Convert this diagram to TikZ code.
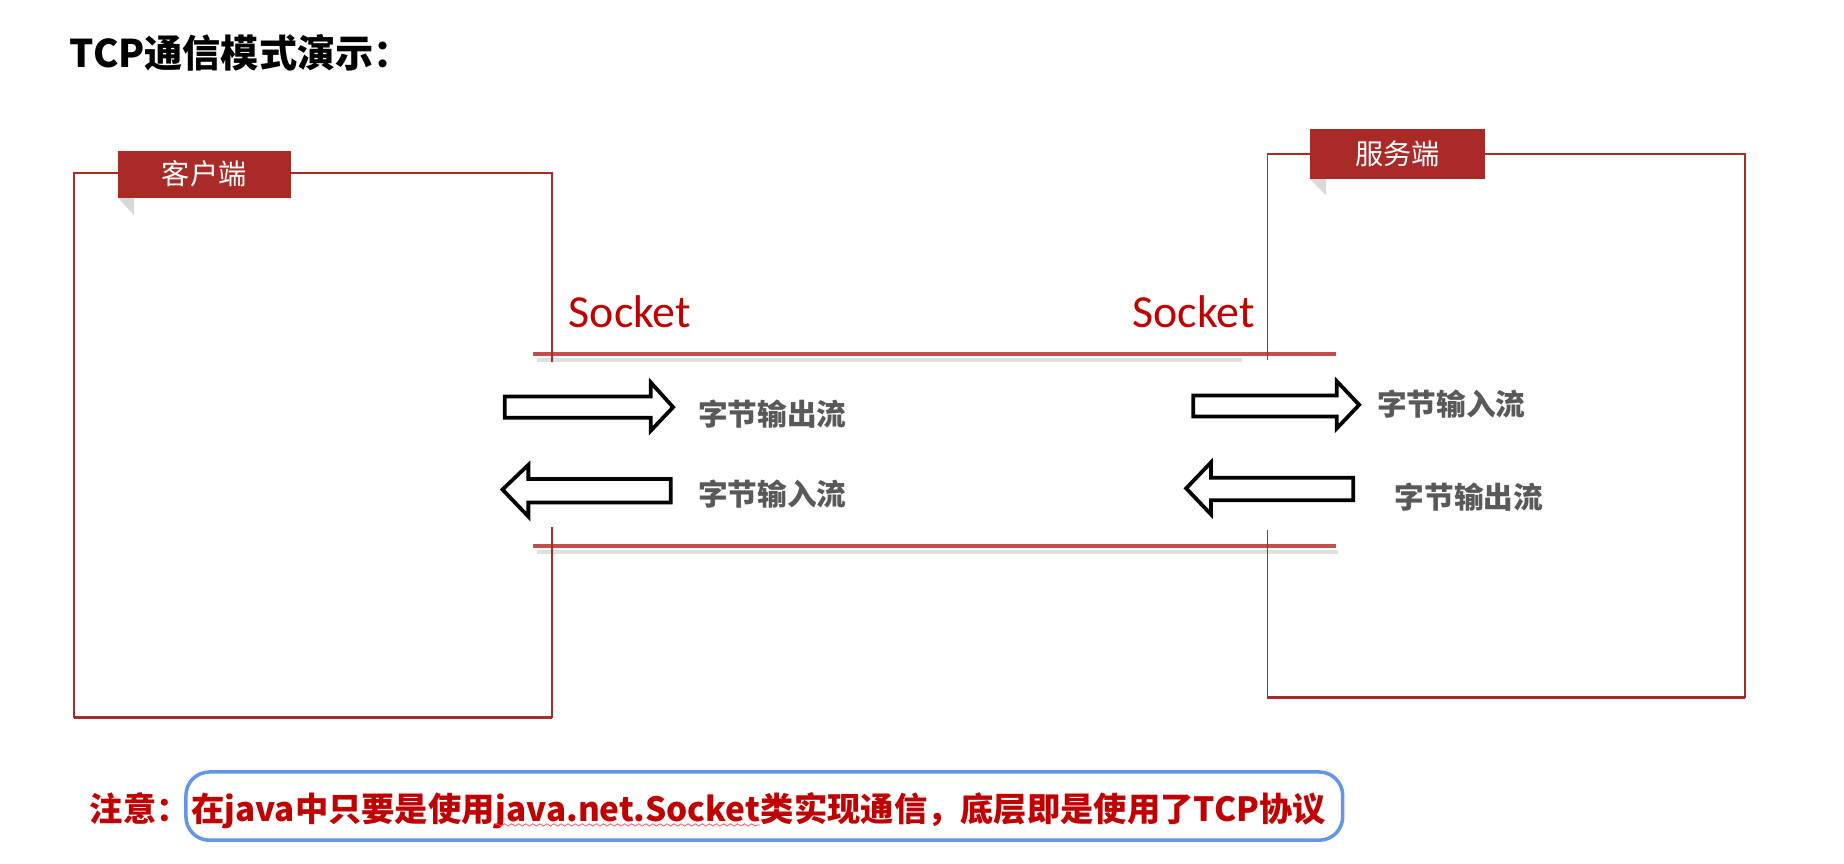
\documentclass[tikz,border=0pt]{standalone}
\usepackage{fontspec}
\newfontfamily\cjk{Noto Sans CJK SC}
\newfontfamily\carlito{Carlito}
\usetikzlibrary{decorations.pathmorphing}
\definecolor{boxred}{RGB}{170,42,39}
\definecolor{sockline}{RGB}{192,80,77}
\definecolor{sockred}{RGB}{192,0,0}
\definecolor{txtgray}{RGB}{89,89,89}
\definecolor{noteblue}{RGB}{100,149,230}
\definecolor{foldgray}{RGB}{217,217,217}
\tikzset{
  boxline/.style={draw=boxred, line width=0.6pt},
  boxbottom/.style={draw=boxred, line width=1.2pt},
  tab/.style={fill=boxred, text=white, inner sep=0pt, font=\cjk\fontsize{12}{14}\selectfont},
  fold/.style={fill=foldgray},
  sockbar/.style={draw=sockline, line width=1.5pt},
  sockshadow/.style={draw=black!12, line width=2pt},
  socklabel/.style={anchor=west, inner sep=0pt, text=sockred, font=\carlito\fontsize{19.5}{22}\selectfont},
  blockarrow/.style={draw=black, fill=white, line width=1.6pt, miter limit=10},
  streamlabel/.style={anchor=west, inner sep=0pt, text=txtgray, font=\cjk\bfseries\fontsize{12.6}{15}\selectfont},
  notetext/.style={anchor=base west, inner sep=0pt, text=sockred, font=\cjk\bfseries\fontsize{14.15}{17}\selectfont},
}
\begin{document}
\begin{tikzpicture}[x=0.5pt,y=-0.5pt]
\useasboundingbox (0,0) rectangle (1567,734.2);
% title
\node[anchor=west, inner sep=0pt, font=\cjk\bfseries\fontsize{16.2}{19}\selectfont] (title) at (59,45) {TCP通信模式演示：};
% socket bars
\draw[sockshadow] (456,306) -- (1055,306);
\draw[sockshadow] (456,469) -- (1137,469);
\draw[sockbar] (453,301) -- (1135,301);
\draw[sockbar] (453,464) -- (1135,464);
% client box
\draw[boxline] (469,308) -- (469,147) -- (63,147) -- (63,610);
\draw[boxline] (469,448) -- (469,610);
\draw[boxbottom] (63,610) -- (469,610);
% server box
\draw[boxline] (1077,306) -- (1077,131) -- (1483,131) -- (1483,593);
\draw[boxline] (1077,450) -- (1077,593);
\draw[boxbottom] (1077,593) -- (1483,593);
% tabs
\fill[fold] (100,168) -- (114,168) -- (114,183) -- cycle;
\node[tab, minimum width=73.5pt, minimum height=20pt] (client) at (173.5,148) {客户端};
\fill[fold] (1113,152) -- (1127,152) -- (1127,166) -- cycle;
\node[tab, minimum width=74.5pt, minimum height=21pt] (server) at (1187.5,131) {服务端};
% socket labels
\node[socklabel] (sockL) at (483,265) {Socket};
\node[socklabel] (sockR) at (962,265) {Socket};
% arrows left
\draw[blockarrow] (429,337) -- (553,337) -- (553,325) -- (572,346) -- (553,366) -- (553,355) -- (429,355) -- cycle;
\draw[blockarrow] (427,416) -- (449,395) -- (449,407) -- (570,407) -- (570,427) -- (449,427) -- (449,439) -- cycle;
% arrows right
\draw[blockarrow] (1014,336) -- (1136,336) -- (1136,324) -- (1155,344) -- (1136,364) -- (1136,354) -- (1014,354) -- cycle;
\draw[blockarrow] (1008,415) -- (1029,393) -- (1029,406) -- (1150,406) -- (1150,425) -- (1029,425) -- (1029,437) -- cycle;
% stream labels
\node[streamlabel] (outL) at (593,352) {字节输出流};
\node[streamlabel] (inL) at (593,420) {字节输入流};
\node[streamlabel] (inR) at (1170,343) {字节输入流};
\node[streamlabel] (outR) at (1185,422) {字节输出流};
% note
\draw[noteblue, line width=1.5pt, rounded corners=10pt] (158,656) rectangle (1141,714);
\node[notetext] (note0) at (76,698) {注意：};
\node[notetext] (note1) at (162,698) {在java中只要是使用};
\node[notetext] (note2) at (note1.base east) {java.net.Socket};
\node[notetext] (note3) at (note2.base east) {类实现通信，底层即是使用了TCP协议};
\draw[red!70, line width=0.3pt, decorate, decoration={snake, amplitude=0.5pt, segment length=3pt}] ([yshift=-1.5pt]note2.base west) -- ([yshift=-1.5pt]note2.base east);
\end{tikzpicture}
\end{document}
